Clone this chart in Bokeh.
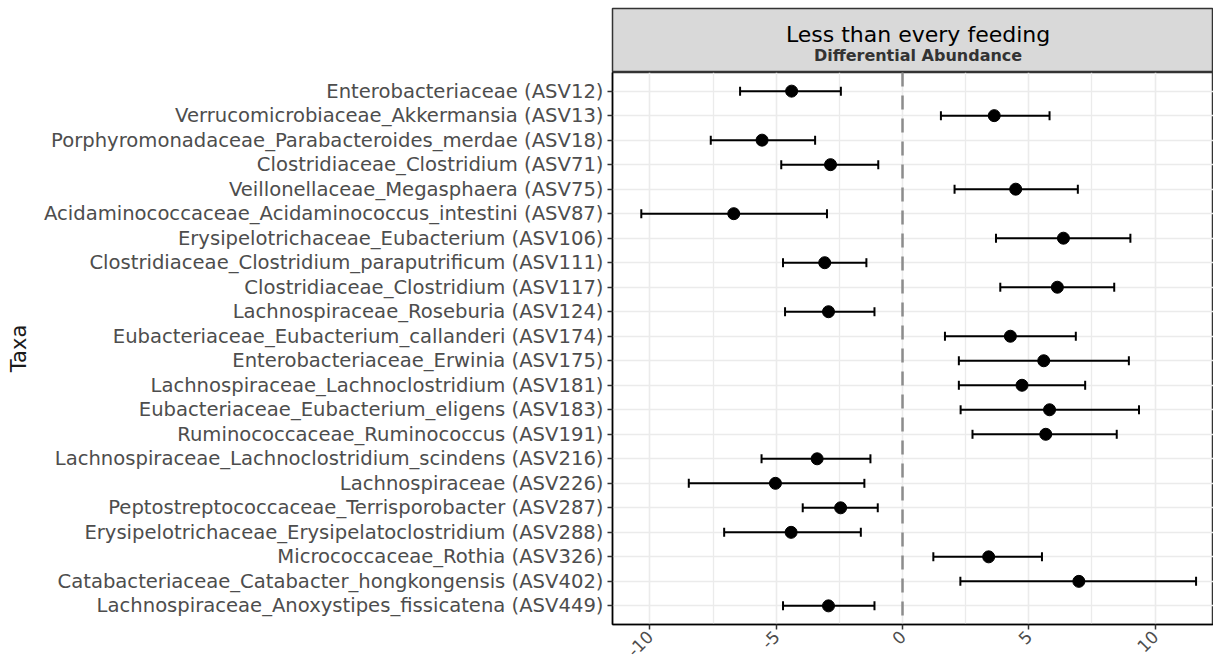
import math
from bokeh.plotting import figure
from bokeh.models import (ColumnDataSource, FactorRange, Range1d, FixedTicker, Span,
                          Whisker, TeeHead)
from bokeh.layouts import column
from bokeh.core.properties import value
from bokeh.embed import file_html
from bokeh.resources import INLINE

# ---------------- data ----------------
taxa = [
    "Enterobacteriaceae (ASV12)",
    "Verrucomicrobiaceae_Akkermansia (ASV13)",
    "Porphyromonadaceae_Parabacteroides_merdae (ASV18)",
    "Clostridiaceae_Clostridium (ASV71)",
    "Veillonellaceae_Megasphaera (ASV75)",
    "Acidaminococcaceae_Acidaminococcus_intestini (ASV87)",
    "Erysipelotrichaceae_Eubacterium (ASV106)",
    "Clostridiaceae_Clostridium_paraputrificum (ASV111)",
    "Clostridiaceae_Clostridium (ASV117)",
    "Lachnospiraceae_Roseburia (ASV124)",
    "Eubacteriaceae_Eubacterium_callanderi (ASV174)",
    "Enterobacteriaceae_Erwinia (ASV175)",
    "Lachnospiraceae_Lachnoclostridium (ASV181)",
    "Eubacteriaceae_Eubacterium_eligens (ASV183)",
    "Ruminococcaceae_Ruminococcus (ASV191)",
    "Lachnospiraceae_Lachnoclostridium_scindens (ASV216)",
    "Lachnospiraceae (ASV226)",
    "Peptostreptococcaceae_Terrisporobacter (ASV287)",
    "Erysipelotrichaceae_Erysipelatoclostridium (ASV288)",
    "Micrococcaceae_Rothia (ASV326)",
    "Catabacteriaceae_Catabacter_hongkongensis (ASV402)",
    "Lachnospiraceae_Anoxystipes_fissicatena (ASV449)",
]
estimate = [-4.39, 3.63, -5.56, -2.85, 4.48, -6.68, 6.37, -3.08, 6.13, -2.93, 4.27,
            5.59, 4.73, 5.82, 5.67, -3.38, -5.03, -2.45, -4.41, 3.41, 6.98, -2.93]
lower = [-6.43, 1.52, -7.59, -4.80, 2.06, -10.34, 3.70, -4.73, 3.87, -4.65, 1.68,
         2.23, 2.23, 2.30, 2.77, -5.58, -8.46, -3.95, -7.06, 1.22, 2.29, -4.73]
upper = [-2.44, 5.82, -3.46, -0.96, 6.94, -2.99, 9.02, -1.43, 8.38, -1.11, 6.86,
         8.96, 7.23, 9.36, 8.48, -1.27, -1.51, -0.98, -1.65, 5.52, 11.62, -1.11]

x_ticks = [-10, -5, 0, 5, 10]
x_tick_labels = ["-10", "-5", "0", "5", "10"]
x_minor = [-7.5, -2.5, 2.5, 7.5]
strip_title = ["Less than every feeding"]
strip_subtitle = ["Differential Abundance"]
y_title = "Taxa"
ref_value = 0

FONT = "DejaVu Sans"
W = 1213
LEFT = 612
X_START, X_END = -11.48, 12.31

# ---------------- strip (facet header) ----------------
strip = figure(width=W, height=72, x_range=Range1d(X_START, X_END), y_range=Range1d(0, 64),
               x_axis_location=None, y_axis_location=None, toolbar_location=None,
               output_backend="svg", min_border_left=LEFT, min_border_right=0,
               min_border_top=8, min_border_bottom=0)
strip.background_fill_color = "#D9D9D9"
strip.border_fill_color = "white"
strip.outline_line_color = "#333333"
strip.outline_line_width = 1.5
strip.grid.visible = False
xc = (X_START + X_END) / 2 + 0.2
strip.text(x=[xc], y=[38], text=strip_title, text_font=value(FONT),
           text_font_size="22px", text_color="black", text_align="center",
           text_baseline="middle")
strip.text(x=[xc], y=[17], text=strip_subtitle, text_font=value(FONT),
           text_font_size="16px", text_font_style="bold", text_color="#333333",
           text_align="center", text_baseline="middle")

# ---------------- main panel ----------------
src = ColumnDataSource(dict(taxa=taxa, est=estimate, lo=lower, hi=upper))

p = figure(width=W, height=593, x_range=Range1d(X_START, X_END),
           y_range=FactorRange(factors=list(reversed(taxa)), range_padding=0.26,
                               range_padding_units="absolute"),
           toolbar_location=None, output_backend="svg",
           min_border_left=LEFT, min_border_right=0, min_border_top=0,
           min_border_bottom=41)
p.background_fill_color = "white"
p.border_fill_color = "white"
p.outline_line_color = "#333333"
p.outline_line_width = 1.5

# grid
p.xgrid.grid_line_color = "#EBEBEB"
p.xgrid.grid_line_width = 1.6
p.xgrid.minor_grid_line_color = "#EBEBEB"
p.xgrid.minor_grid_line_width = 1.3
p.ygrid.grid_line_color = "#EBEBEB"
p.ygrid.grid_line_width = 1.6

# reference line at 0
p.add_layout(Span(location=ref_value, dimension="height", line_color="#8C8C8C",
                  line_width=2.5, line_dash="14 9"))

# error bars
wh = Whisker(base="taxa", lower="lo", upper="hi", dimension="width", source=src,
             line_color="black", line_width=2,
             lower_head=TeeHead(size=9, line_color="black", line_width=2),
             upper_head=TeeHead(size=9, line_color="black", line_width=2))
p.add_layout(wh)
p.scatter(x="est", y="taxa", source=src, size=12, color="black")

# x axis
xa = p.xaxis[0]
xa.ticker = FixedTicker(ticks=x_ticks, minor_ticks=x_minor)
xa.major_label_overrides = {t: l for t, l in zip(x_ticks, x_tick_labels)}
xa.major_label_orientation = math.pi / 4
xa.major_label_text_font = FONT
xa.major_label_text_font_size = "17px"
xa.major_label_text_color = "#4D4D4D"
xa.major_label_standoff = 4
xa.minor_tick_line_color = None
xa.major_tick_line_color = "#333333"
xa.major_tick_line_width = 1.5
xa.major_tick_in = 0
xa.major_tick_out = 5
xa.axis_line_color = "black"
xa.axis_line_width = 1.5

# y axis
ya = p.yaxis[0]
ya.axis_label = y_title
ya.axis_label_text_font = FONT
ya.axis_label_text_font_size = "21px"
ya.axis_label_text_font_style = "normal"
ya.axis_label_text_color = "#1A1A1A"
ya.axis_label_standoff = 10
ya.major_label_text_font = FONT
ya.major_label_text_font_size = "19.6px"
ya.major_label_text_color = "#4D4D4D"
ya.major_label_standoff = 4
ya.major_tick_line_color = "#333333"
ya.major_tick_line_width = 1.5
ya.major_tick_in = 0
ya.major_tick_out = 5
ya.axis_line_color = "black"
ya.axis_line_width = 1.5

layout = column(strip, p, spacing=0)
open("out.html", "w").write(file_html(layout, INLINE))
